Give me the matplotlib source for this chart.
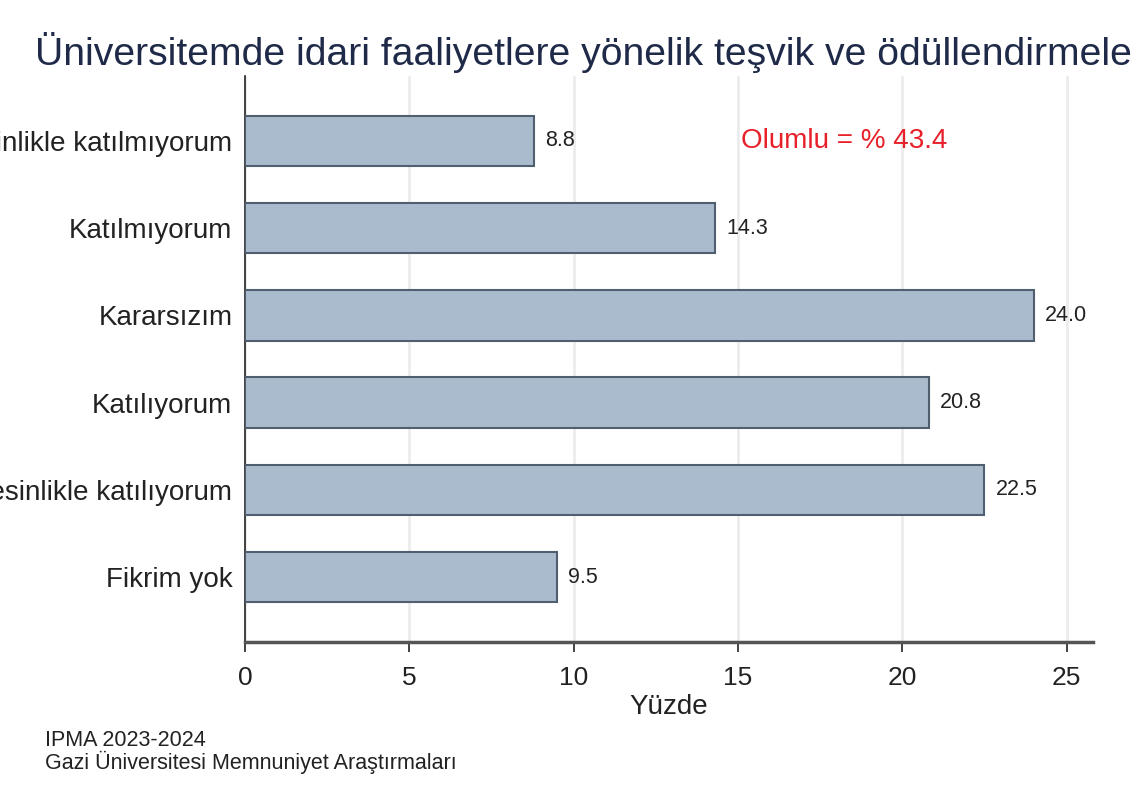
import numpy as np
import matplotlib
matplotlib.use("Agg")
import matplotlib.pyplot as plt

plt.rcParams["font.family"] = ["Liberation Sans", "DejaVu Sans"]

categories = ["Kesinlikle katılmıyorum", "Katılmıyorum", "Kararsızım",
              "Katılıyorum", "Kesinlikle katılıyorum", "Fikrim yok"]
values = [8.8, 14.3, 24.0, 20.8, 22.5, 9.5]
xticks = [0, 5, 10, 15, 20, 25]

title = "Üniversitemde idari faaliyetlere yönelik teşvik ve ödüllendirmeler"
note = "Olumlu = % 43.4"
source = "IPMA 2023-2024\nGazi Üniversitesi Memnuniyet Araştırmaları"

fig = plt.figure(figsize = (11.34, 8.11), dpi = 100)
ax = fig.add_axes([0.216, 0.2084, 0.7478, 0.6979])

pos = np.arange(len(categories))
bars = ax.barh(pos, values, height = 0.58, color = "#abbbce", edgecolor = "#4f5f70", linewidth = 1.5, zorder = 3)

for rect, v in zip(bars, values):
    ax.annotate("%.1f" % v, (rect.get_width(), rect.get_y() + rect.get_height() / 2),
                xytext = (8, 0), textcoords = "offset points", va = "center", ha = "left",
                fontsize = 15.5, color = "#222222")

ax.text(15.1, 0, note, color = "#e8202a", fontsize = 20, va = "center", ha = "left")

ax.set_ylim(5.745, -0.745)
ax.set_xlim(0, 25.8)
ax.set_yticks(pos)
ax.set_yticklabels(categories, fontsize = 20, color = "#222222")
ax.tick_params(axis = "y", length = 0, pad = 9)
ax.set_xticks(xticks)
ax.set_xticklabels([str(t) for t in xticks], fontsize = 19, color = "#222222")
ax.tick_params(axis = "x", length = 7, width = 1.3, color = "#333333", pad = 10)
ax.set_xlabel("Yüzde", fontsize = 20, color = "#222222", labelpad = 3)

ax.grid(True, axis = "x", color = "#ececec", linewidth = 2, zorder = 0)
for s in ["top", "right"]:
    ax.spines[s].set_visible(False)
ax.spines["left"].set_color("#222222")
ax.spines["left"].set_linewidth(1.2)
ax.spines["bottom"].set_color("#555555")
ax.spines["bottom"].set_linewidth(2.5)

fig.text(0.031, 0.935, title, fontsize = 28.2, color = "#1e2a48", ha = "left", va = "center")
fig.text(0.04, 0.073, source, fontsize = 15.5, color = "#222222", ha = "left", va = "center", linespacing = 1.0)

fig.savefig("out.png", dpi = 100)
